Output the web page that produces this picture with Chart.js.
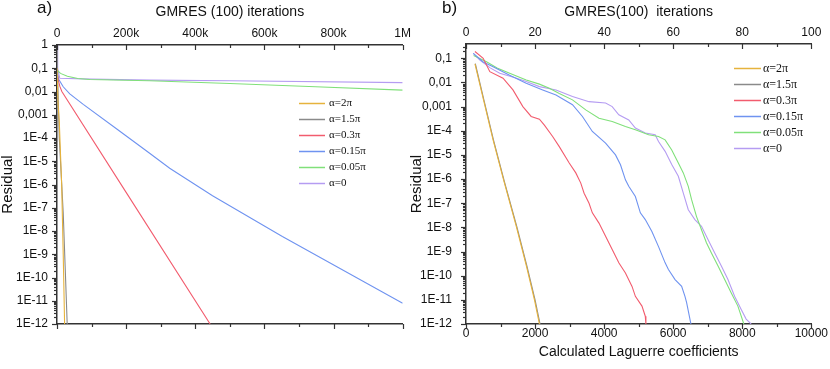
<!DOCTYPE html>
<html>
<head>
<meta charset="utf-8">
<script src="https://cdn.jsdelivr.net/npm/chart.js@4.4.0/dist/chart.umd.min.js"></script>
<style>
  html, body { margin: 0; padding: 0; background: #fff; }
  #wrap { position: relative; width: 830px; height: 369px; overflow: hidden; }
  canvas { position: absolute; top: 0; }
  #chartA { left: 0; }
  #chartB { left: 400px; }
  .tag { position: absolute; top: -1px; font: 17px "Liberation Sans", Arial, sans-serif; color: #111; line-height: 17px; }
</style>
</head>
<body>
<div id="wrap">
  <canvas id="chartA" width="415" height="369"></canvas>
  <canvas id="chartB" width="430" height="369"></canvas>
  <div class="tag" style="left:37px">a)</div>
  <div class="tag" style="left:442px">b)</div>
</div>
<script>
// ---- series labels ----
const seriesLabels = ['α=2π', 'α=1.5π', 'α=0.3π', 'α=0.15π', 'α=0.05π', 'α=0'];

// ---- a) residual vs GMRES(100) iterations ----
const aX_2pi   = [0, 3000, 6600, 13500, 18000, 22000];
const aY_2pi   = [0.1, 3e-3, 5e-4, 1e-6, 1e-9, 1e-12];
const aX_1p5pi = [0, 1000, 3000, 6600, 18000, 24000, 29500];
const aY_1p5pi = [1, 0.1, 0.01, 1e-4, 6e-8, 2e-10, 1e-12];
const aX_03pi  = [0, 3000, 8000, 14000, 200000, 443000];
const aY_03pi  = [0.08, 0.035, 0.017, 0.01, 4.6e-7, 1e-12];
const aX_015pi = [0, 4000, 18000, 37000, 76000, 172000, 268000, 326000, 450000, 652000, 1000000];
const aY_015pi = [0.085, 0.035, 0.016, 7.9e-3, 2.8e-3, 2.5e-4, 2.2e-5, 5e-6, 3.3e-7, 5.8e-9, 7.8e-12];
const aX_005pi = [0, 10000, 30000, 60000, 95000, 268000, 500000, 748000, 1000000];
const aY_005pi = [0.085, 0.06, 0.045, 0.036, 0.033, 0.029, 0.022, 0.016, 0.0115];
const aX_0     = [0, 2000, 8000, 100000, 268000, 500000, 1000000];
const aY_0     = [1, 0.1, 0.037, 0.034, 0.031, 0.029, 0.024];

const aTopTicks = [0, 200000, 400000, 600000, 800000, 1000000];
const aTopTickLabels = ['0', '200k', '400k', '600k', '800k', '1M'];
const aYTicks = [1, 0.1, 0.01, 0.001, 1e-4, 1e-5, 1e-6, 1e-7, 1e-8, 1e-9, 1e-10, 1e-11, 1e-12];
const aYTickLabels = ['1', '0,1', '0,01', '0,001', '1E-4', '1E-5', '1E-6', '1E-7', '1E-8', '1E-9', '1E-10', '1E-11', '1E-12'];

// ---- b) residual vs calculated Laguerre coefficients ----
const bX_2pi   = [259, 520, 784, 1100, 1456, 1750, 1983, 2126];
const bY_2pi   = [0.058, 1.6e-3, 4.2e-5, 8e-7, 1.1e-8, 2.5e-10, 1e-11, 1e-12];
const bX_1p5pi = [270, 530, 795, 1110, 1470, 1765, 2000, 2145];
const bY_1p5pi = [0.06, 1.6e-3, 4.2e-5, 8e-7, 1.1e-8, 2.5e-10, 1e-11, 1e-12];
const bX_03pi  = [259, 498, 690, 1072, 1360, 1647, 1887, 2126, 2270, 2509, 2701, 2989, 3180, 3324, 3420, 3563, 3659, 3851, 4042, 4234, 4425, 4617, 4808, 4905, 5096, 5192, 5210];
const bY_03pi  = [0.19, 0.1, 0.028, 0.015, 4.9e-3, 1e-3, 3.9e-4, 3e-4, 1.7e-4, 5.8e-5, 2.2e-5, 4.6e-6, 1.8e-6, 6.8e-7, 2.6e-7, 1e-7, 4e-8, 1.5e-8, 4.3e-9, 1.2e-9, 3.4e-10, 1.3e-10, 3.6e-11, 1.4e-11, 5.5e-12, 2.1e-12, 1e-12];
const bX_015pi = [211, 500, 784, 1264, 1744, 2222, 2606, 3084, 3372, 3659, 4042, 4330, 4474, 4617, 4713, 4905, 5049, 5192, 5383, 5575, 5767, 5862, 6054, 6245, 6341, 6389, 6514];
const bY_015pi = [0.16, 0.07, 0.045, 0.02, 9.3e-3, 4.9e-3, 3e-3, 1.2e-3, 3.9e-4, 9.3e-5, 3.1e-5, 1e-5, 3.9e-6, 9.3e-7, 5e-7, 1.9e-7, 4e-8, 2.1e-8, 6.8e-9, 1.6e-9, 3.4e-10, 1.8e-10, 6.9e-11, 3.6e-11, 1.4e-11, 7.6e-12, 1e-12];
const bX_005pi = [220, 594, 900, 1264, 1744, 2126, 2414, 2701, 3084, 3468, 3851, 4234, 4617, 4905, 5287, 5575, 5766, 5958, 6149, 6293, 6437, 6533, 6676, 6820, 6963, 7107, 7299, 7491, 7682, 7874, 8046];
const bY_005pi = [0.13, 0.072, 0.04, 0.024, 0.0126, 8.5e-3, 5.8e-3, 3.5e-3, 1.9e-3, 7.3e-4, 3.3e-4, 2.4e-4, 1.5e-4, 1.1e-4, 6.8e-5, 5.8e-5, 4.2e-5, 1.6e-5, 4.6e-6, 1.8e-6, 5e-7, 1.4e-7, 2.8e-8, 8e-9, 2.3e-9, 8.7e-10, 2.5e-10, 6.9e-11, 1.9e-11, 5.5e-12, 1e-12];
const bX_0     = [211, 402, 700, 977, 1400, 1744, 2126, 2606, 3084, 3563, 4042, 4234, 4425, 4713, 4905, 5192, 5479, 5575, 5767, 5958, 6149, 6293, 6437, 6628, 6820, 7011, 7203, 7395, 7586, 7778, 7970, 8113, 8257];
const bY_0     = [0.16, 0.085, 0.04, 0.024, 0.016, 0.011, 6.7e-3, 4.9e-3, 2.6e-3, 1.6e-3, 1.4e-3, 1e-3, 4.6e-4, 2.8e-4, 1.3e-4, 8e-5, 6.8e-5, 3.6e-5, 1.4e-5, 4e-6, 1.3e-6, 2.6e-7, 5.4e-8, 2.1e-8, 1.1e-8, 3.1e-9, 8.7e-10, 2.5e-10, 6.9e-11, 1.4e-11, 4e-12, 1.6e-12, 1e-12];

const bBottomTicks = [0, 2000, 4000, 6000, 8000, 10000];
const bTopTicks = [0, 20, 40, 60, 80, 100];
const bYTicks = [0.1, 0.01, 0.001, 1e-4, 1e-5, 1e-6, 1e-7, 1e-8, 1e-9, 1e-10, 1e-11, 1e-12];
const bYTickLabels = ['0,1', '0,01', '0,001', '1E-4', '1E-5', '1E-6', '1E-7', '1E-8', '1E-9', '1E-10', '1E-11', '1E-12'];

// ---- styles ----
const seriesColors = ['#e6b33c', '#8a8a8a', '#f25c6e', '#6f93f0', '#80e07a', '#b59cf2'];
const sans = "'Liberation Sans', Arial, sans-serif";
const axisColor = '#333';
const textColor = '#111';

function toPts(xs, ys) {
  return xs.map((x, i) => ({ x: x, y: ys[i] }));
}

function makeSets(pairs) {
  return pairs.map((p, i) => ({
    label: seriesLabels[i],
    data: toPts(p[0], p[1]),
    borderColor: seriesColors[i],
    borderWidth: 1.1,
    pointRadius: 0,
    tension: 0,
    fill: false
  }));
}

// log minors 2..9 x 10^n inside [min, max]
function logMinors(min, max) {
  const out = [];
  for (let n = Math.floor(Math.log10(min)); n <= Math.ceil(Math.log10(max)); n++) {
    for (let k = 2; k <= 9; k++) {
      const v = k * Math.pow(10, n);
      if (v > min && v < max) out.push(v);
    }
  }
  return out;
}

function range(a, b, step) {
  const out = [];
  for (let v = a; v <= b + 1e-9; v += step) out.push(v);
  return out;
}

// tick marks drawn by hand: inward on the top axis, outward elsewhere
function makeTickMarks(marks) {
  return {
    id: 'tickMarks',
    afterDraw(chart) {
      const ctx = chart.ctx;
      ctx.save();
      ctx.strokeStyle = axisColor;
      ctx.lineWidth = 1.2;
      marks.forEach(m => {
        const s = chart.scales[m.axis];
        const draw = (vals, len) => vals.forEach(v => {
          ctx.beginPath();
          if (m.axis !== 'y') {
            const px = Math.round(s.getPixelForValue(v)) + 0.5;
            const base = s.position === 'top' ? s.bottom : s.top;
            ctx.moveTo(px, base);
            ctx.lineTo(px, base + len);
          } else {
            const py = Math.round(s.getPixelForValue(v)) + 0.5;
            ctx.moveTo(s.right, py);
            ctx.lineTo(s.right - len, py);
          }
          ctx.stroke();
        });
        draw(m.major, 5);
        draw(m.minor, 3);
      });
      ctx.restore();
    }
  };
}

const insideLegend = {
  id: 'insideLegend',
  afterDraw(chart, args, o) {
    const ctx = chart.ctx;
    ctx.save();
    ctx.font = o.font;
    ctx.textBaseline = 'middle';
    chart.data.datasets.forEach((ds, i) => {
      const y = Math.round(o.y + i * o.step) + 0.5;
      ctx.strokeStyle = ds.borderColor;
      ctx.lineWidth = 1.5;
      ctx.beginPath();
      ctx.moveTo(o.x, y);
      ctx.lineTo(o.x + o.len, y);
      ctx.stroke();
      ctx.fillStyle = textColor;
      ctx.fillText(ds.label, o.x + o.len + o.gap, y);
    });
    ctx.restore();
  }
};

function axisBase(extra) {
  return Object.assign({
    grid: { display: false, drawTicks: false },
    border: { display: true, color: axisColor, width: 1.5 }
  }, extra);
}

// ---- chart a ----
new Chart(document.getElementById('chartA'), {
  type: 'line',
  data: {
    datasets: makeSets([
      [aX_2pi, aY_2pi], [aX_1p5pi, aY_1p5pi], [aX_03pi, aY_03pi],
      [aX_015pi, aY_015pi], [aX_005pi, aY_005pi], [aX_0, aY_0]
    ])
  },
  options: {
    responsive: false,
    animation: false,
    layout: { padding: { left: 0, right: 11, top: 0, bottom: 0 } },
    plugins: {
      legend: { display: false },
      tooltip: { enabled: false },
      insideLegend: { x: 299, y: 103.3, step: 15.9, len: 26, gap: 4, font: "11px 'Liberation Serif', 'Times New Roman', serif" }
    },
    scales: {
      x: axisBase({
        type: 'linear', position: 'bottom', min: 0, max: 1e6,
        ticks: { display: false },
        afterFit: s => { s.height = 45; }
      }),
      x2: axisBase({
        type: 'linear', position: 'top', min: 0, max: 1e6,
        afterBuildTicks: s => { s.ticks = aTopTicks.map(v => ({ value: v })); },
        ticks: { autoSkip: false, maxRotation: 0, padding: 4, color: textColor, font: { family: sans, size: 12 },
                 callback: (v, i) => aTopTickLabels[i] },
        title: { display: true, text: 'GMRES (100) iterations', color: textColor,
                 font: { family: sans, size: 14 }, padding: { top: 4, bottom: 0 } },
        afterFit: s => { s.height = 45; }
      }),
      y: axisBase({
        type: 'logarithmic', position: 'left', min: 1e-12, max: 1,
        afterBuildTicks: s => { s.ticks = aYTicks.map(v => ({ value: v })); },
        ticks: { autoSkip: false, padding: 9, color: textColor, font: { family: sans, size: 12 },
                 callback: (v, i) => aYTickLabels[i] },
        title: { display: true, text: 'Residual', color: textColor,
                 font: { family: sans, size: 15, lineHeight: 1 }, padding: { top: 0, bottom: 0 } },
        afterFit: s => { s.width = 57; }
      })
    }
  },
  plugins: [
    makeTickMarks([
      { axis: 'x', major: range(0, 1e6, 200000), minor: range(100000, 900000, 200000) },
      { axis: 'x2', major: range(0, 1e6, 200000), minor: range(100000, 900000, 200000) },
      { axis: 'y', major: aYTicks, minor: logMinors(1e-12, 1) }
    ]),
    insideLegend
  ]
});

// ---- chart b ----
new Chart(document.getElementById('chartB'), {
  type: 'line',
  data: {
    datasets: makeSets([
      [bX_2pi, bY_2pi], [bX_1p5pi, bY_1p5pi], [bX_03pi, bY_03pi],
      [bX_015pi, bY_015pi], [bX_005pi, bY_005pi], [bX_0, bY_0]
    ])
  },
  options: {
    responsive: false,
    animation: false,
    layout: { padding: { left: 0, right: 16, top: 0, bottom: 0 } },
    plugins: {
      legend: { display: false },
      tooltip: { enabled: false },
      insideLegend: { x: 334, y: 68.3, step: 15.85, len: 27, gap: 2, font: "12px 'Liberation Serif', 'Times New Roman', serif" }
    },
    scales: {
      x: axisBase({
        type: 'linear', position: 'bottom', min: 0, max: 10000,
        afterBuildTicks: s => { s.ticks = bBottomTicks.map(v => ({ value: v })); },
        ticks: { autoSkip: false, maxRotation: 0, padding: 2, color: textColor, font: { family: sans, size: 12 },
                 callback: (v, i) => String(bBottomTicks[i]) },
        title: { display: true, text: 'Calculated Laguerre coefficients', color: textColor,
                 font: { family: sans, size: 14 }, padding: { top: 0, bottom: 8 } },
        afterFit: s => { s.height = 45; }
      }),
      x2: axisBase({
        type: 'linear', position: 'top', min: 0, max: 100,
        afterBuildTicks: s => { s.ticks = bTopTicks.map(v => ({ value: v })); },
        ticks: { autoSkip: false, maxRotation: 0, padding: 4, color: textColor, font: { family: sans, size: 12 },
                 callback: (v, i) => String(bTopTicks[i]) },
        title: { display: true, text: 'GMRES(100)  iterations', color: textColor,
                 font: { family: sans, size: 14 }, padding: { top: 4, bottom: 0 } },
        afterFit: s => { s.height = 44; }
      }),
      y: axisBase({
        type: 'logarithmic', position: 'left', min: 1e-12, max: 0.39,
        afterBuildTicks: s => { s.ticks = bYTicks.map(v => ({ value: v })); },
        ticks: { autoSkip: false, padding: 14, color: textColor, font: { family: sans, size: 12 },
                 callback: (v, i) => bYTickLabels[i] },
        title: { display: true, text: 'Residual', color: textColor,
                 font: { family: sans, size: 15, lineHeight: 1 }, padding: { top: 9, bottom: 0 } },
        afterFit: s => { s.width = 66; }
      })
    }
  },
  plugins: [
    makeTickMarks([
      { axis: 'x', major: bBottomTicks, minor: range(1000, 9000, 2000) },
      { axis: 'x2', major: bTopTicks, minor: range(10, 90, 20) },
      { axis: 'y', major: bYTicks, minor: logMinors(1e-12, 0.39) }
    ]),
    insideLegend
  ]
});
</script>
</body>
</html>
